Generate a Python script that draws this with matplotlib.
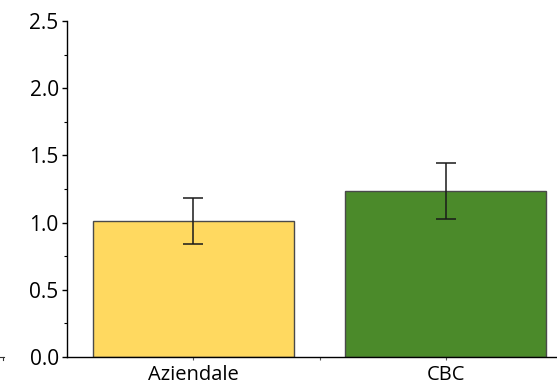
import matplotlib
matplotlib.use("Agg")
import matplotlib.pyplot as plt
from matplotlib.ticker import MultipleLocator
from matplotlib.lines import Line2D

plt.rcParams.update({
    "font.family": ["Open Sans", "DejaVu Sans"],
    "font.size": 15,
    "axes.facecolor": "white",
    "figure.facecolor": "white",
})

categories = ["Aziendale", "CBC"]
means = [1.01, 1.235]
errors = [0.171, 0.205]
bar_colors = ["#FFD960", "#4B8A2A"]

fig = plt.figure(figsize=(5.57, 3.85), dpi=100)
ax = fig.add_axes([67 / 557, 28 / 385, 490 / 557, 336 / 385])

x = list(range(len(categories)))
ax.bar(x, means, width=0.795, color=bar_colors, edgecolor="#4a4a4a",
       linewidth=1.0, zorder=2)
ax.errorbar(x, means, yerr=errors, fmt="none", ecolor="#1a1a1a",
            elinewidth=1.1, capsize=7.2, capthick=1.1, zorder=3)

ax.set_xlim(-0.5, 1.44)
ax.set_ylim(0, 2.5)
ax.yaxis.set_major_locator(MultipleLocator(0.5))
ax.yaxis.set_minor_locator(MultipleLocator(0.25))
ax.yaxis.set_major_formatter(matplotlib.ticker.FormatStrFormatter("%.1f"))
ax.set_xticks(x)
ax.set_xticklabels(categories)
ax.set_xticks([0.5], minor=True)

for s in ("top", "right"):
    ax.spines[s].set_visible(False)
for s in ("left", "bottom"):
    ax.spines[s].set_linewidth(1.0)
    ax.spines[s].set_color("black")

ax.tick_params(axis="y", which="major", direction="out", length=3.5,
               width=1.0, pad=2.5, labelsize=15)
ax.tick_params(axis="y", which="minor", direction="out", length=2,
               width=0.8)
ax.tick_params(axis="x", which="major", direction="out", length=2.5,
               width=0.8, color="#555555", pad=3, labelsize=14.5)
ax.tick_params(axis="x", which="minor", direction="out", length=2.5,
               width=0.8, color="#555555")

# small stub at the lower left corner
fig.add_artist(Line2D([0, 4 / 557], [28 / 385, 28 / 385], color="#333333",
                      linewidth=0.8, transform=fig.transFigure))
fig.add_artist(Line2D([3 / 557, 3 / 557], [28 / 385, 25 / 385],
                      color="#333333", linewidth=0.8,
                      transform=fig.transFigure))

fig.savefig("out.png", dpi=100, facecolor="white")
